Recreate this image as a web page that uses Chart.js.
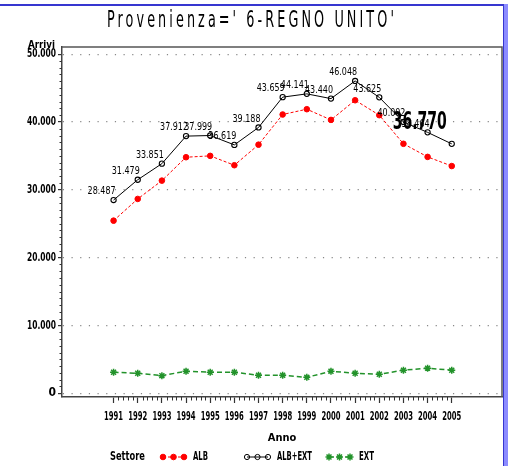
<!DOCTYPE html>
<html>
<head>
<meta charset="utf-8">
<script src="https://cdn.jsdelivr.net/npm/chart.js@4.4.0/dist/chart.umd.min.js"></script>
<style>
html, body { margin: 0; padding: 0; background: #fff; }
#wrap { position: relative; width: 508px; height: 466px; overflow: hidden; }
#wrap canvas { position: absolute; left: 0; top: 0; }
#topLine { position: absolute; left: 0; top: 4px; width: 504px; height: 2px; background: #3636d0; }
#rightLine { position: absolute; left: 503px; top: 4px; width: 1px; height: 462px; background: #3636d0; }
#rightBand { position: absolute; left: 504px; top: 4px; width: 4px; height: 462px; background: #8c8cff; }
</style>
</head>
<body>
<div id="wrap">
  <canvas id="myChart" width="508" height="466"></canvas>
  <div id="topLine"></div>
  <div id="rightLine"></div>
  <div id="rightBand"></div>
</div>
<script>
// values
const years = [1991, 1992, 1993, 1994, 1995, 1996, 1997, 1998, 1999, 2000, 2001, 2002, 2003, 2004, 2005];
const albTotal = [28487, 31479, 33851, 37912, 37999, 36619, 39188, 43659, 44141, 43440, 46048, 43625, 40002, 38464, 36770];
const alb = [25450, 28650, 31350, 34800, 35000, 33620, 36650, 41100, 41880, 40300, 43200, 41000, 36780, 34850, 33500];
const ext = [3100, 2950, 2600, 3250, 3100, 3100, 2650, 2650, 2350, 3250, 2950, 2800, 3400, 3700, 3400];
const yTicks = [0, 10000, 20000, 30000, 40000, 50000];
const seriesNames = ['ALB', 'ALB+EXT', 'EXT'];
const titleText = "Provenienza=' 6-REGNO UNITO'";

function hasFont(name) {
    const c = document.createElement('canvas').getContext('2d');
    const s = 'mmmwwwlli1991.000';
    c.font = '40px monospace';
    const a = c.measureText(s).width;
    c.font = '40px "' + name + '", monospace';
    const b = c.measureText(s).width;
    c.font = '40px serif';
    const d = c.measureText(s).width;
    c.font = '40px "' + name + '", serif';
    const e = c.measureText(s).width;
    return a !== b || d !== e;
}
const narrow = ['Liberation Sans Narrow', 'DejaVu Sans Condensed', 'Roboto Condensed', 'Arial Narrow'].find(hasFont) || 'Liberation Sans';
const fam = '"' + narrow + '", "Liberation Sans", sans-serif';

function fmt(n) {
    return String(n).replace(/\B(?=(\d{3})+(?!\d))/g, '.');
}

const toPoints = arr => years.map((yr, i) => ({ x: yr, y: arr[i] }));

// draws text squeezed to a given width
function squeezeText(ctx, text, x, y, width, align) {
    const w = ctx.measureText(text).width;
    const k = width ? Math.min(1, width / w) : 1;
    ctx.save();
    ctx.translate(x, y);
    ctx.scale(k, 1);
    ctx.textAlign = align || 'left';
    ctx.fillText(text, 0, 0);
    ctx.restore();
}

const decor = {
    id: 'decor',
    afterDraw(chart) {
        const ctx = chart.ctx;
        const area = chart.chartArea;
        const xs = chart.scales.x;
        const ys = chart.scales.y;

        ctx.save();
        // frame top + right
        ctx.strokeStyle = '#555';
        ctx.lineWidth = 1.5;
        ctx.beginPath();
        ctx.moveTo(area.left, area.top);
        ctx.lineTo(area.right, area.top);
        ctx.lineTo(area.right, area.bottom);
        ctx.stroke();

        // minor ticks
        ctx.strokeStyle = '#333';
        ctx.lineWidth = 1;
        ctx.beginPath();
        for (let v = 1000; v < 50000; v += 1000) {
            if (v % 10000 === 0) continue;
            const py = Math.round(ys.getPixelForValue(v)) + 0.5;
            ctx.moveTo(area.left - 2.5, py);
            ctx.lineTo(area.left, py);
        }
        for (let k = 0; k < (years.length - 1) * 5; k++) {
            if (k % 5 === 0) continue;
            const px = Math.round(xs.getPixelForValue(years[0] + k / 5)) + 0.5;
            ctx.moveTo(px, area.bottom);
            ctx.lineTo(px, area.bottom + 3.5);
        }
        ctx.stroke();

        // tick labels, condensed like the original
        ctx.fillStyle = '#000';
        ctx.font = 'bold 12px ' + fam;
        ctx.textBaseline = 'middle';
        xs.ticks.forEach(t => {
            squeezeText(ctx, String(t.value), xs.getPixelForValue(t.value), 416.5, 19, 'center');
        });
        ys.ticks.forEach(t => {
            squeezeText(ctx, fmt(t.value), area.left - 6, ys.getPixelForValue(t.value), 29, 'right');
        });

        // data labels on ALB+EXT
        const meta = chart.getDatasetMeta(1);
        meta.data.forEach((pt, i) => {
            if (i === meta.data.length - 1) return;
            ctx.font = '11px ' + fam;
            ctx.textBaseline = 'bottom';
            squeezeText(ctx, fmt(albTotal[i]), pt.x + 2, pt.y - 3, 28, 'right');
        });
        const last = meta.data[meta.data.length - 1];
        ctx.font = 'bold 24px ' + fam;
        ctx.textBaseline = 'middle';
        squeezeText(ctx, fmt(albTotal[albTotal.length - 1]), last.x - 5, last.y - 21, 54, 'right');

        // title
        ctx.font = '23px ' + fam;
        ctx.letterSpacing = '5px';
        ctx.textBaseline = 'middle';
        squeezeText(ctx, titleText, 252, 21, 290, 'center');
        ctx.letterSpacing = '0px';

        // y axis title
        ctx.font = 'bold 10px ' + fam;
        ctx.textBaseline = 'middle';
        squeezeText(ctx, 'Arrivi', 28, 45, 27, 'left');

        // legend
        const ly = 457;
        ctx.font = 'bold 12px ' + fam;
        squeezeText(ctx, 'Settore', 110, ly, 35, 'left');
        const starts = [163, 247, 329];
        chart.data.datasets.forEach((ds, i) => {
            const x0 = starts[i];
            ctx.save();
            ctx.strokeStyle = ds.borderColor;
            ctx.lineWidth = ds.borderWidth;
            ctx.setLineDash(ds.borderDash || []);
            ctx.beginPath();
            ctx.moveTo(x0, ly);
            ctx.lineTo(x0 + 21, ly);
            ctx.stroke();
            ctx.setLineDash([]);
            for (let j = 0; j < 3; j++) {
                ctx.fillStyle = ds.pointBackgroundColor;
                ctx.strokeStyle = ds.pointBorderColor;
                Chart.helpers.drawPoint(ctx, {
                    pointStyle: ds.pointStyle,
                    radius: ds.pointRadius,
                    rotation: 0,
                    borderWidth: ds.pointBorderWidth
                }, x0 + j * 10.5, ly);
            }
            ctx.restore();
            ctx.fillStyle = '#000';
            ctx.font = 'bold 12px ' + fam;
            ctx.textBaseline = 'middle';
            squeezeText(ctx, ds.label, x0 + 30, ly, ds.label.length * 5, 'left');
        });
        ctx.restore();
    }
};

const ctx = document.getElementById('myChart').getContext('2d');
new Chart(ctx, {
    type: 'line',
    data: {
        datasets: [{
            label: seriesNames[0],
            data: toPoints(alb),
            borderColor: '#ff0000',
            borderWidth: 1,
            borderDash: [3, 2],
            pointStyle: 'circle',
            pointRadius: 2.8,
            pointBackgroundColor: '#ff0000',
            pointBorderColor: '#ff0000',
            pointBorderWidth: 1,
            order: 2
        }, {
            label: seriesNames[1],
            data: toPoints(albTotal),
            borderColor: '#000000',
            borderWidth: 1,
            pointStyle: 'circle',
            pointRadius: 2.6,
            pointBackgroundColor: 'rgba(0,0,0,0)',
            pointBorderColor: '#000000',
            pointBorderWidth: 1.1,
            order: 1
        }, {
            label: seriesNames[2],
            data: toPoints(ext),
            borderColor: '#22922a',
            borderWidth: 1.5,
            borderDash: [5, 3],
            pointStyle: 'star',
            pointRadius: 3.5,
            pointBackgroundColor: '#22922a',
            pointBorderColor: '#22922a',
            pointBorderWidth: 1.5,
            order: 3
        }]
    },
    options: {
        responsive: false,
        animation: false,
        devicePixelRatio: 1,
        layout: { padding: { top: 47, right: 6, bottom: 20, left: 0 } },
        plugins: {
            legend: { display: false },
            title: { display: false },
            tooltip: { enabled: false }
        },
        elements: { line: { tension: 0 } },
        scales: {
            x: {
                type: 'linear',
                min: 1988.865,
                max: 2007.08,
                afterBuildTicks: scale => { scale.ticks = years.map(v => ({ value: v })); },
                afterFit: scale => { scale.height = 49; },
                ticks: { display: false, autoSkip: false, maxRotation: 0 },
                grid: {
                    drawOnChartArea: false,
                    drawTicks: true,
                    tickLength: 6,
                    tickColor: '#333',
                    tickWidth: 1.2
                },
                border: { color: '#444', width: 1.5 },
                title: {
                    display: true,
                    text: 'Anno',
                    color: '#000',
                    font: { family: fam, size: 11, weight: 'bold' },
                    padding: { top: 0, bottom: 1 }
                }
            },
            y: {
                min: -550,
                max: 51050,
                afterBuildTicks: scale => { scale.ticks = yTicks.map(v => ({ value: v })); },
                afterFit: scale => { scale.width = 62; },
                ticks: { display: false },
                grid: {
                    color: '#888',
                    lineWidth: 1.2,
                    drawTicks: true,
                    tickLength: 4,
                    tickColor: '#333',
                    tickWidth: 1.2,
                    tickBorderDash: []
                },
                border: { color: '#444', width: 1.5, dash: [1.2, 7.47], dashOffset: -9 }
            }
        }
    },
    plugins: [decor]
});
</script>
</body>
</html>
